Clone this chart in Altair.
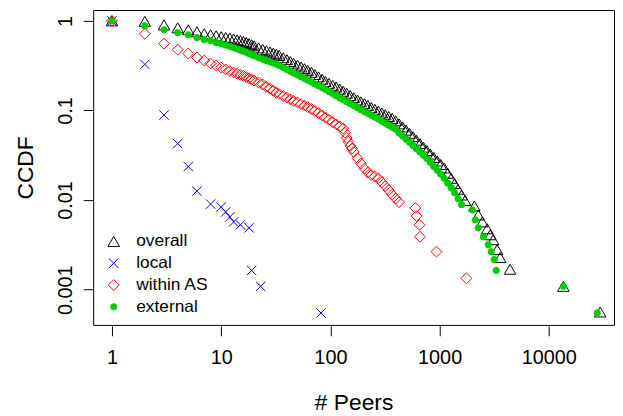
import altair as alt
import pandas as pd

SERIES = ["overall", "local", "within AS", "external"]

X_SMALL = [1, 2, 3, 4, 5, 6, 7, 8, 9, 10]
X_BAND = [11, 12, 13, 14, 15, 16, 17, 18, 19, 20,
          22, 24, 26, 28, 30, 32, 34,
          37, 40, 43, 46, 50, 54, 58, 62, 67, 72, 78, 84, 90, 97,
          105, 113, 122, 131, 141, 152, 164, 177, 190,
          205, 220, 237, 255, 275, 296, 318, 342, 368, 396,
          426, 458, 493, 530, 570, 613, 660, 710, 764, 822, 884, 951,
          1023, 1100, 1185, 1275, 1370, 1475, 1590, 1710]

# overall
OVERALL_Y_SMALL = [1.0, 0.988, 0.903, 0.837, 0.796, 0.756, 0.718, 0.70, 0.683, 0.666]
OVERALL_Y_BAND = [0.652, 0.641, 0.629, 0.615, 0.603, 0.590, 0.576, 0.557, 0.542, 0.527,
                  0.500, 0.481, 0.464, 0.450, 0.436, 0.425, 0.412,
                  0.388, 0.370, 0.352, 0.337, 0.321, 0.306, 0.293, 0.281, 0.267, 0.252, 0.237, 0.223, 0.211, 0.201,
                  0.191, 0.183, 0.173, 0.164, 0.156, 0.147, 0.139, 0.131, 0.125,
                  0.119, 0.114, 0.108, 0.103, 0.0985, 0.0938, 0.0896, 0.0856, 0.0816, 0.0767,
                  0.0709, 0.0655, 0.0603, 0.0556, 0.0510, 0.0466, 0.0426, 0.0390, 0.0357, 0.0326, 0.0299, 0.0273,
                  0.0250, 0.0228, 0.0199, 0.0175, 0.0153, 0.0132, 0.0114, 0.0099]
OVERALL_X_TAIL = [2080, 2260, 2460, 2730, 2905, 3090, 3365, 3580, 4415, 13600, 29500]
OVERALL_Y_TAIL = [0.00859, 0.00683, 0.00571, 0.00479, 0.0041, 0.00361, 0.0028, 0.00229, 0.00169, 0.00109, 0.000564]

# local
LOCAL_X = [1, 2, 3, 4, 5, 6, 8, 10, 11, 12, 13, 15, 18, 19, 23, 82]
LOCAL_Y = [1.0, 0.327, 0.089, 0.0427, 0.0237, 0.0126, 0.00903, 0.00837, 0.00737, 0.00648,
           0.00571, 0.0053, 0.0049, 0.00164, 0.00109, 0.00055]

# within AS
WITHIN_Y_SMALL = [1.0, 0.718, 0.557, 0.478, 0.432, 0.390, 0.361, 0.335, 0.318, 0.302]
WITHIN_X_BAND = [11, 12, 13, 14, 15, 16, 17, 18, 19, 20,
                 22, 24, 26, 28, 30, 32, 34,
                 37, 40, 43, 46, 50, 54, 58, 62, 67, 72, 78, 84, 90, 97,
                 105, 113, 122, 131, 136, 141, 146, 152, 158, 164, 177, 190,
                 205, 220, 237, 255, 275, 296, 318, 342, 368, 396, 426]
WITHIN_Y_BAND = [0.287, 0.275, 0.266, 0.258, 0.250, 0.243, 0.236, 0.229, 0.222, 0.216,
                 0.205, 0.195, 0.184, 0.175, 0.166, 0.158, 0.153,
                 0.145, 0.139, 0.133, 0.128, 0.123, 0.118, 0.113, 0.109, 0.104, 0.0990, 0.0934, 0.0881, 0.0835, 0.0787,
                 0.0741, 0.0700, 0.0662, 0.0629, 0.0564, 0.0494, 0.0449, 0.0403, 0.0376, 0.0344, 0.0293, 0.0256,
                 0.0225, 0.0203, 0.0190, 0.0183, 0.0175, 0.0158, 0.0143, 0.0129, 0.0115, 0.0104, 0.00948]
WITHIN_X_TAIL = [600, 615, 655, 660, 935, 1760]
WITHIN_Y_TAIL = [0.00816, 0.00665, 0.0053, 0.0039, 0.00266, 0.00134]

# external
EXTERNAL_Y_SMALL = [1.0, 0.881, 0.796, 0.737, 0.700, 0.649, 0.617, 0.601, 0.571, 0.557]
EXTERNAL_Y_BAND = [0.537, 0.520, 0.502, 0.487, 0.472, 0.459, 0.446, 0.432, 0.420, 0.408,
                   0.388, 0.373, 0.360, 0.349, 0.338, 0.330, 0.318,
                   0.301, 0.287, 0.273, 0.262, 0.249, 0.237, 0.227, 0.218, 0.208, 0.198, 0.188, 0.180, 0.172, 0.163,
                   0.154, 0.146, 0.138, 0.132, 0.125, 0.119, 0.113, 0.107, 0.102,
                   0.0973, 0.0929, 0.0885, 0.0843, 0.0801, 0.0760, 0.0722, 0.0684, 0.0650, 0.0617,
                   0.0560, 0.0519, 0.0479, 0.0443, 0.0407, 0.0375, 0.0344, 0.0317, 0.0291, 0.0263, 0.0237, 0.0215,
                   0.0195, 0.0175, 0.0155, 0.0137, 0.0121, 0.0104, 0.0089]
EXTERNAL_X_TAIL = [1995, 2125, 2260, 2512, 2786, 2965, 3160, 3300, 13600, 27700]
EXTERNAL_Y_TAIL = [0.00776, 0.00601, 0.00491, 0.0039, 0.00318, 0.00266, 0.00217, 0.00164, 0.00109, 0.00055]

X_TICKS = [1, 10, 100, 1000, 10000]
Y_TICKS = [0.001, 0.01, 0.1, 1]

series_data = {
    "overall": (X_SMALL + X_BAND + OVERALL_X_TAIL, OVERALL_Y_SMALL + OVERALL_Y_BAND + OVERALL_Y_TAIL),
    "local": (LOCAL_X, LOCAL_Y),
    "within AS": (X_SMALL + WITHIN_X_BAND + WITHIN_X_TAIL, WITHIN_Y_SMALL + WITHIN_Y_BAND + WITHIN_Y_TAIL),
    "external": (X_SMALL + X_BAND[:-1] + EXTERNAL_X_TAIL, EXTERNAL_Y_SMALL + EXTERNAL_Y_BAND + EXTERNAL_Y_TAIL),
}

rows = []
k = 0
for s in SERIES:
    xs, ys = series_data[s]
    for xv, yv in zip(xs, ys):
        rows.append({"x": xv, "y": yv, "series": s, "ord": k})
        k += 1
df = pd.DataFrame(rows)

FONT = "Liberation Sans"
X_SHAPE = "M-1,-1L1,1M-1,1L1,-1"

chart = alt.Chart(df).mark_point(opacity=1, strokeWidth=1).encode(
    x=alt.X("x:Q",
            scale=alt.Scale(type="log", domain=[0.673, 39500], nice=False),
            axis=alt.Axis(values=X_TICKS, format="~g", title="# Peers",
                          labelPadding=12, titlePadding=24, offset=1)),
    y=alt.Y("y:Q",
            scale=alt.Scale(type="log", domain=[0.000405, 1.323], nice=False),
            axis=alt.Axis(values=Y_TICKS, format="~g", title="CCDF",
                          labelAngle=270, labelAlign="center", labelBaseline="alphabetic",
                          labelPadding=12, titlePadding=18)),
    shape=alt.Shape("series:N", scale=alt.Scale(domain=SERIES,
                    range=["triangle-up", X_SHAPE, "diamond", "circle"]),
                    legend=alt.Legend(title=None)),
    stroke=alt.Stroke("series:N", scale=alt.Scale(domain=SERIES,
                      range=["#000000", "#0000FF", "#FF0000", "#00CD00"]),
                      legend=alt.Legend(title=None)),
    fill=alt.Fill("series:N", scale=alt.Scale(domain=SERIES,
                  range=["transparent", "transparent", "transparent", "#00CD00"]),
                  legend=alt.Legend(title=None)),
    size=alt.Size("series:N", scale=alt.Scale(type="ordinal", domain=SERIES, range=[135, 90, 120, 40]),
                  legend=alt.Legend(title=None)),
    order=alt.Order("ord:Q"),
).properties(
    width=526, height=318,
    autosize=alt.AutoSizeParams(type="none"),
    padding={"left": 86, "top": 0, "right": 1, "bottom": 90},
).configure_view(
    stroke="black", strokeWidth=1
).configure_axis(
    domain=False, grid=False, ticks=True, tickSize=10, tickColor="black", tickWidth=1,
    labelFont=FONT, labelFontSize=20, labelColor="black",
    titleFont=FONT, titleFontSize=23, titleFontWeight="normal", titleColor="black",
).configure_legend(
    orient="none", legendX=12, legendY=225, padding=0,
    labelFont=FONT, labelFontSize=17.5, labelColor="black", labelOffset=14,
    rowPadding=3, symbolStrokeWidth=1,
)

chart.save("out.html", embed_options={"renderer": "svg", "actions": False})
